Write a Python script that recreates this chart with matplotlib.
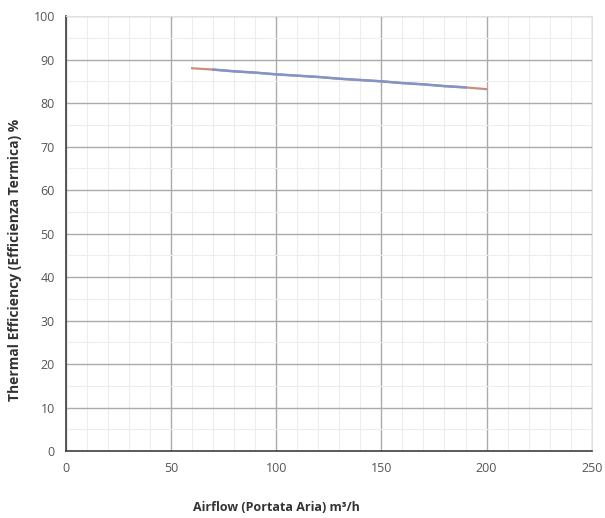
import matplotlib.pyplot as plt
from matplotlib.ticker import MultipleLocator

# Datos
airflow = [60, 70, 80, 90, 100, 110, 120, 130, 140, 150, 160, 170, 180, 190, 200]
efficiency = [88.0, 87.7, 87.3, 87.0, 86.6, 86.3, 86.0, 85.6,
              85.3, 85.0, 84.6, 84.3, 83.9, 83.6, 83.2]

plt.rcParams['font.family'] = ['Open Sans', 'DejaVu Sans']

fig, ax = plt.subplots(figsize=(6.05, 5.18), dpi=100)
fig.subplots_adjust(left=0.109, right=0.978, bottom=0.129, top=0.969)

# serie naranja debajo, azul encima
ax.plot(airflow, efficiency, color='#c8907a', lw=1.6, zorder=3)
ax.plot(airflow[1:-1], efficiency[1:-1], color='#8294c8', lw=1.8, zorder=4)

ax.set_xlim(0, 250)
ax.set_ylim(0, 100)
ax.xaxis.set_major_locator(MultipleLocator(50))
ax.yaxis.set_major_locator(MultipleLocator(10))
ax.xaxis.set_minor_locator(MultipleLocator(10))
ax.yaxis.set_minor_locator(MultipleLocator(5))

ax.grid(which='major', color='#ababab', lw=1.0)
ax.grid(which='minor', color='#ededed', lw=0.8)
ax.set_axisbelow(True)

for s in ['top', 'right']:
    ax.spines[s].set_color('#e0e0e0')
for s in ['left', 'bottom']:
    ax.spines[s].set_color('#404040')
    ax.spines[s].set_linewidth(1.2)

ax.tick_params(which='both', length=0, labelsize=9, colors='#555555', pad=8)

ax.set_xlabel('Airflow (Portata Aria) m³/h', fontsize=9, fontweight='bold',
              color='#333333')
ax.set_ylabel('Thermal Efficiency (Efficienza Termica) %', fontsize=10,
              fontweight='bold', color='#333333')
ax.xaxis.set_label_coords(0.40, -0.115)
ax.yaxis.set_label_coords(-0.083, 0.44)

plt.savefig('out.png', dpi=100)
